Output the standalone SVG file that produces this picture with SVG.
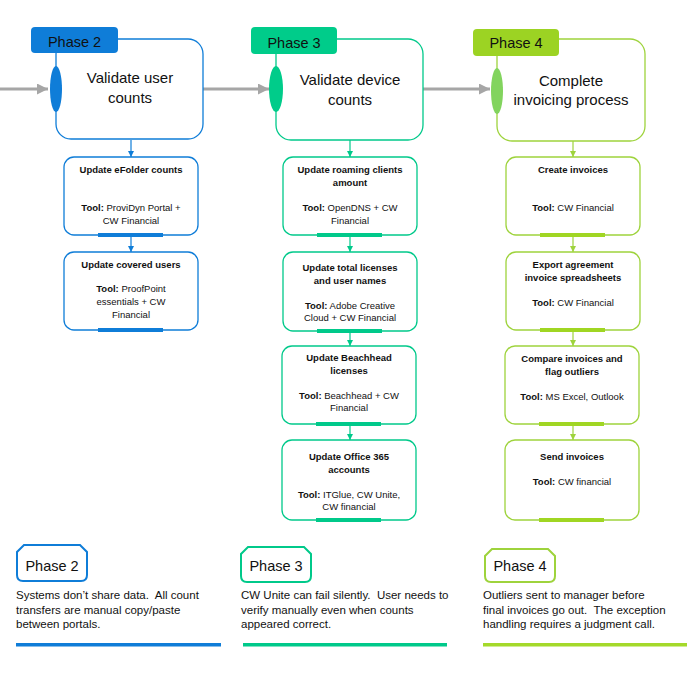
<svg xmlns="http://www.w3.org/2000/svg" width="699" height="699" viewBox="0 0 699 699">
<defs>
<style>
.t{font-family:"Liberation Sans",Arial,sans-serif;fill:#111;}
.main{font-size:15px;text-anchor:middle;}
.tab{font-size:14.5px;text-anchor:middle;}
.sub{font-size:9.5px;text-anchor:middle;}
.b{font-weight:bold;}
.para{font-size:11.5px;white-space:pre;}
.bx{fill:#fff;stroke-width:1.3;}
.blue{stroke:#0F7DD8;}
.green{stroke:#00C98A;}
.lime{stroke:#9ED33C;}
.gray{stroke:#A6A6A6;stroke-width:3;fill:none;}
.cb{stroke:#0F7DD8;stroke-width:1.2;fill:none;}
.cg{stroke:#00C98A;stroke-width:1.2;fill:none;}
.cl{stroke:#9ED33C;stroke-width:1.2;fill:none;}
</style>
<marker id="ag" viewBox="0 0 10 10" refX="10" refY="5" markerWidth="11" markerHeight="11" markerUnits="userSpaceOnUse" orient="auto"><path d="M0,0 L10,5 L0,10 z" fill="#A6A6A6"/></marker>
<marker id="ab" viewBox="0 0 10 10" refX="10" refY="5" markerWidth="6" markerHeight="6" markerUnits="userSpaceOnUse" orient="auto"><path d="M0,0 L10,5 L0,10 z" fill="#0F7DD8"/></marker>
<marker id="agr" viewBox="0 0 10 10" refX="10" refY="5" markerWidth="6" markerHeight="6" markerUnits="userSpaceOnUse" orient="auto"><path d="M0,0 L10,5 L0,10 z" fill="#00C98A"/></marker>
<marker id="al" viewBox="0 0 10 10" refX="10" refY="5" markerWidth="6" markerHeight="6" markerUnits="userSpaceOnUse" orient="auto"><path d="M0,0 L10,5 L0,10 z" fill="#9ED33C"/></marker>
</defs>
<rect width="699" height="699" fill="#fff"/>

<g id="connectors">
<line class="gray" x1="0" y1="89" x2="48" y2="89" marker-end="url(#ag)"/>
<line class="gray" x1="203" y1="89" x2="269" y2="89" marker-end="url(#ag)"/>
<line class="gray" x1="423" y1="89" x2="490" y2="89" marker-end="url(#ag)"/>
<line class="cb" x1="131" y1="140" x2="131" y2="157" marker-end="url(#ab)"/>
<line class="cb" x1="131" y1="235" x2="131" y2="252" marker-end="url(#ab)"/>
<line class="cg" x1="350" y1="140" x2="350" y2="157" marker-end="url(#agr)"/>
<line class="cg" x1="350" y1="235" x2="350" y2="252" marker-end="url(#agr)"/>
<line class="cg" x1="350" y1="331" x2="350" y2="346" marker-end="url(#agr)"/>
<line class="cg" x1="350" y1="424" x2="350" y2="440" marker-end="url(#agr)"/>
<line class="cl" x1="573" y1="141" x2="573" y2="157" marker-end="url(#al)"/>
<line class="cl" x1="573" y1="235" x2="573" y2="252" marker-end="url(#al)"/>
<line class="cl" x1="573" y1="330" x2="573" y2="346" marker-end="url(#al)"/>
<line class="cl" x1="573" y1="424" x2="573" y2="440" marker-end="url(#al)"/>
</g>

<g id="phase2-main">
<rect class="bx blue" x="56" y="39" width="147" height="100" rx="15"/>
<rect x="31" y="27" width="87" height="26" rx="4" fill="#0F7DD8"/>
<text class="t tab" x="74.5" y="47">Phase 2</text>
<ellipse cx="56" cy="89" rx="6" ry="23" fill="#0F7DD8"/>
<text class="t main" x="130" y="83">Validate user</text>
<text class="t main" x="130" y="103">counts</text>
</g>

<g id="phase3-main">
<rect class="bx green" x="276" y="39" width="147" height="101" rx="15"/>
<rect x="251" y="27" width="86" height="27" rx="4" fill="#00CC8A"/>
<text class="t tab" x="294" y="48">Phase 3</text>
<ellipse cx="276" cy="89" rx="7" ry="23" fill="#00CC8A"/>
<text class="t main" x="350" y="85">Validate device</text>
<text class="t main" x="350" y="105">counts</text>
</g>

<g id="phase4-main">
<rect class="bx lime" x="497" y="39" width="148" height="102" rx="15"/>
<rect x="473" y="29" width="86" height="27" rx="4" fill="#9CD323"/>
<text class="t tab" x="516" y="48">Phase 4</text>
<ellipse cx="497" cy="91" rx="6" ry="23" fill="#82D45E"/>
<text class="t main" x="571" y="86">Complete</text>
<text class="t main" x="571" y="105">invoicing process</text>
</g>

<g id="p2-efolder">
<rect class="bx blue" x="64" y="157" width="134" height="78" rx="10"/>
<rect x="98" y="233" width="65" height="4" fill="#0F7DD8"/>
<text class="t sub b" x="131" y="173">Update eFolder counts</text>
<text class="t sub" x="131" y="211"><tspan class="b">Tool:</tspan> ProviDyn Portal +</text>
<text class="t sub" x="131" y="223.5">CW Financial</text>
</g>

<g id="p2-users">
<rect class="bx blue" x="64" y="252" width="134" height="78" rx="10"/>
<rect x="98" y="328" width="65" height="4" fill="#0F7DD8"/>
<text class="t sub b" x="131" y="268">Update covered users</text>
<text class="t sub" x="131" y="292"><tspan class="b">Tool:</tspan> ProofPoint</text>
<text class="t sub" x="131" y="305">essentials + CW</text>
<text class="t sub" x="131" y="318">Financial</text>
</g>

<g id="p3-roaming">
<rect class="bx green" x="283" y="157" width="134" height="78" rx="10"/>
<rect x="317" y="233" width="65" height="4" fill="#00C98A"/>
<text class="t sub b" x="350" y="173">Update roaming clients</text>
<text class="t sub b" x="350" y="185.5">amount</text>
<text class="t sub" x="350" y="211"><tspan class="b">Tool:</tspan> OpenDNS + CW</text>
<text class="t sub" x="350" y="223.5">Financial</text>
</g>

<g id="p3-licenses">
<rect class="bx green" x="283" y="252" width="134" height="79" rx="10"/>
<rect x="317" y="329" width="65" height="4" fill="#00C98A"/>
<text class="t sub b" x="350" y="271">Update total licenses</text>
<text class="t sub b" x="350" y="283.5">and user names</text>
<text class="t sub" x="350" y="308.5"><tspan class="b">Tool:</tspan> Adobe Creative</text>
<text class="t sub" x="350" y="321">Cloud + CW Financial</text>
</g>

<g id="p3-beachhead">
<rect class="bx green" x="282" y="346" width="134" height="78" rx="10"/>
<rect x="316" y="422" width="65" height="4" fill="#00C98A"/>
<text class="t sub b" x="349" y="361">Update Beachhead</text>
<text class="t sub b" x="349" y="373.5">licenses</text>
<text class="t sub" x="349" y="398.5"><tspan class="b">Tool:</tspan> Beachhead + CW</text>
<text class="t sub" x="349" y="411">Financial</text>
</g>

<g id="p3-office">
<rect class="bx green" x="282" y="440" width="134" height="80" rx="10"/>
<rect x="316" y="518" width="65" height="4" fill="#00C98A"/>
<text class="t sub b" x="349" y="460">Update Office 365</text>
<text class="t sub b" x="349" y="472.5">accounts</text>
<text class="t sub" x="349" y="497.5"><tspan class="b">Tool:</tspan> ITGlue, CW Unite,</text>
<text class="t sub" x="349" y="510">CW financial</text>
</g>

<g id="p4-create">
<rect class="bx lime" x="506" y="157" width="134" height="78" rx="10"/>
<rect x="540" y="233" width="65" height="4" fill="#A0D623"/>
<text class="t sub b" x="573" y="173">Create invoices</text>
<text class="t sub" x="573" y="211"><tspan class="b">Tool:</tspan> CW Financial</text>
</g>

<g id="p4-export">
<rect class="bx lime" x="506" y="252" width="134" height="78" rx="10"/>
<rect x="540" y="328" width="65" height="4" fill="#A0D623"/>
<text class="t sub b" x="573" y="268">Export agreement</text>
<text class="t sub b" x="573" y="280.5">invoice spreadsheets</text>
<text class="t sub" x="573" y="305.5"><tspan class="b">Tool:</tspan> CW Financial</text>
</g>

<g id="p4-compare">
<rect class="bx lime" x="505" y="346" width="134" height="78" rx="10"/>
<rect x="539" y="422" width="65" height="4" fill="#A0D623"/>
<text class="t sub b" x="572" y="362">Compare invoices and</text>
<text class="t sub b" x="572" y="375">flag outliers</text>
<text class="t sub" x="572" y="400"><tspan class="b">Tool:</tspan> MS Excel, Outlook</text>
</g>

<g id="p4-send">
<rect class="bx lime" x="505" y="440" width="134" height="80" rx="10"/>
<rect x="539" y="518" width="65" height="4" fill="#A0D623"/>
<text class="t sub b" x="572" y="460">Send invoices</text>
<text class="t sub" x="572" y="484.5"><tspan class="b">Tool:</tspan> CW financial</text>
</g>

<g id="legend-phase2">
<path d="M24,545 L80,545 L87,552 L87,575 Q87,581 81,581 L23,581 Q17,581 17,575 L17,552 Z" fill="#fff" stroke="#0F7DD8" stroke-width="2"/>
<text class="t tab" x="52" y="571">Phase 2</text>
<text class="t para" x="16" y="599">Systems don’t share data.  All count</text>
<text class="t para" x="16" y="613.5">transfers are manual copy/paste</text>
<text class="t para" x="16" y="628">between portals.</text>
<rect x="16" y="643" width="205" height="3.5" fill="#0F7DD8"/>
</g>

<g id="legend-phase3">
<path d="M248,547 L304,547 L311,554 L311,576 Q311,582 305,582 L247,582 Q241,582 241,576 L241,554 Z" fill="#fff" stroke="#00C98A" stroke-width="2"/>
<text class="t tab" x="276" y="571">Phase 3</text>
<text class="t para" x="241" y="599">CW Unite can fail silently.  User needs to</text>
<text class="t para" x="241" y="613.5">verify manually even when counts</text>
<text class="t para" x="241" y="628">appeared correct.</text>
<rect x="243" y="643" width="204" height="3.5" fill="#00C98A"/>
</g>

<g id="legend-phase4">
<path d="M492,549 L548,549 L555,556 L555,576 Q555,582 549,582 L491,582 Q485,582 485,576 L485,556 Z" fill="#fff" stroke="#9ED33C" stroke-width="2"/>
<text class="t tab" x="520" y="571">Phase 4</text>
<text class="t para" x="483" y="599">Outliers sent to manager before</text>
<text class="t para" x="483" y="613.5">final invoices go out.  The exception</text>
<text class="t para" x="483" y="628">handling requires a judgment call.</text>
<rect x="483" y="643" width="204" height="3.5" fill="#A4D92A"/>
</g>
</svg>
